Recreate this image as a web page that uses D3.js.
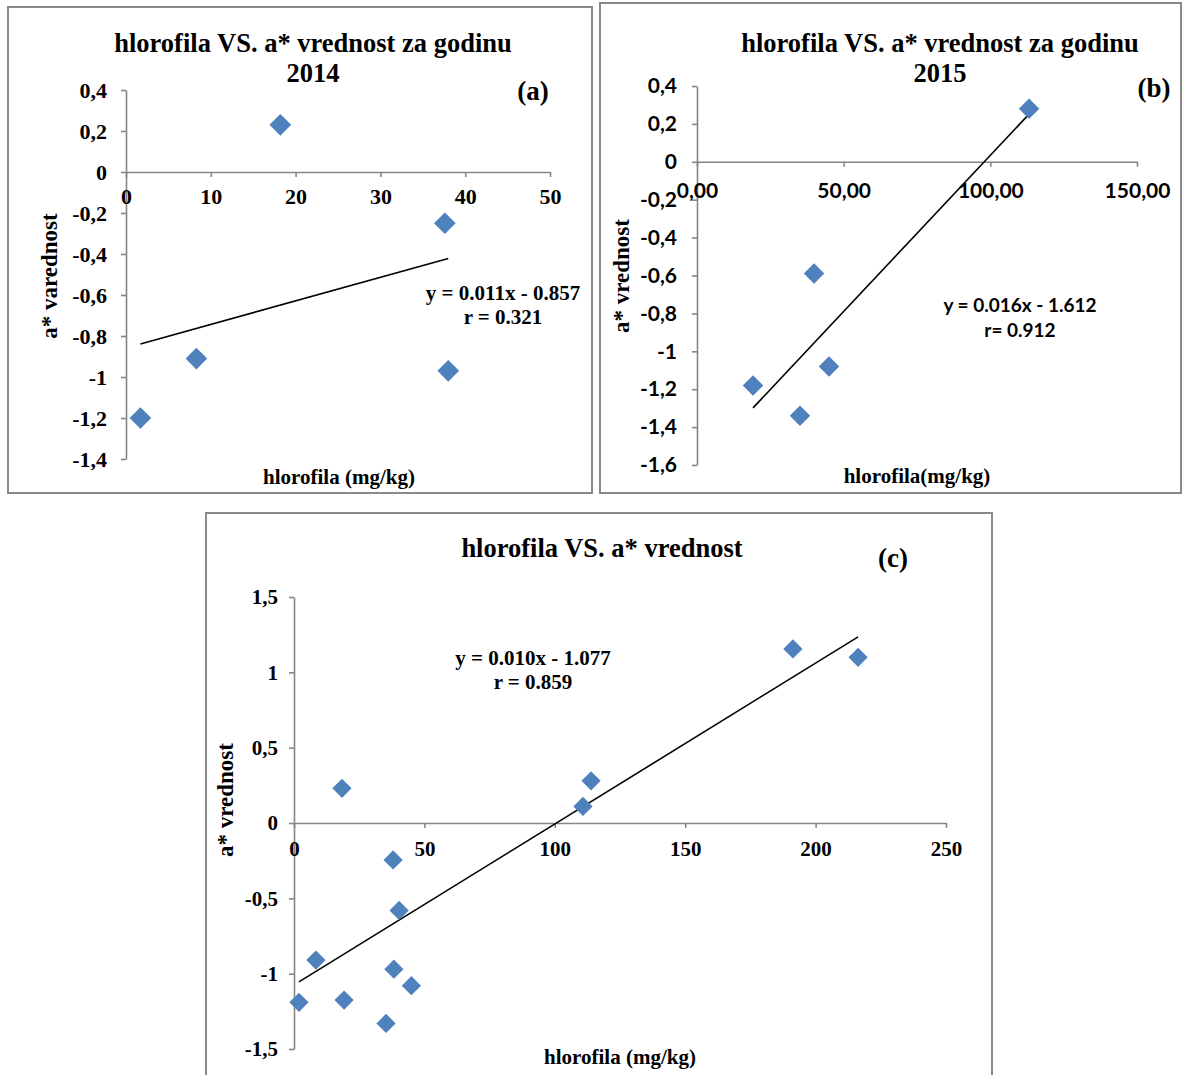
<!DOCTYPE html>
<html>
<head>
<meta charset="utf-8">
<script src="https://cdn.jsdelivr.net/npm/d3@7"></script>
<style>
  html, body { margin: 0; padding: 0; background: #fff; }
  svg { display: block; }
</style>
</head>
<body>
<svg id="chart" width="1184" height="1075"></svg>
<script>
// ---------------- DATA ----------------
// Panel (a): 2014
const xA = [1.7, 8.3, 18.2, 37.6, 38.0];
const yA = [-1.2, -0.91, 0.23, -0.25, -0.97];
// Panel (b): 2015
const xB = [19.1, 35.1, 39.9, 45.0, 113.2];
const yB = [-1.18, -1.34, -0.59, -1.08, 0.28];
// Panel (c): all
const xC = [1.9, 8.4, 18.4, 19.2, 35.3, 38.0, 38.3, 40.3, 45.0, 110.8, 113.9, 191.3, 216.3];
const yC = [-1.19, -0.91, 0.23, -1.175, -1.33, -0.245, -0.97, -0.58, -1.08, 0.11, 0.28, 1.155, 1.10];

// Tick values and labels
const xTicksA = [0, 10, 20, 30, 40, 50];
const xLabelsA = ["0", "10", "20", "30", "40", "50"];
const yTicksA = [0.4, 0.2, 0, -0.2, -0.4, -0.6, -0.8, -1, -1.2, -1.4];
const yLabelsA = ["0,4", "0,2", "0", "-0,2", "-0,4", "-0,6", "-0,8", "-1", "-1,2", "-1,4"];

const xTicksB = [0, 50, 100, 150];
const xLabelsB = ["0,00", "50,00", "100,00", "150,00"];
const yTicksB = [0.4, 0.2, 0, -0.2, -0.4, -0.6, -0.8, -1, -1.2, -1.4, -1.6];
const yLabelsB = ["0,4", "0,2", "0", "-0,2", "-0,4", "-0,6", "-0,8", "-1", "-1,2", "-1,4", "-1,6"];

const xTicksC = [0, 50, 100, 150, 200, 250];
const xLabelsC = ["0", "50", "100", "150", "200", "250"];
const yTicksC = [1.5, 1, 0.5, 0, -0.5, -1, -1.5];
const yLabelsC = ["1,5", "1", "0,5", "0", "-0,5", "-1", "-1,5"];

// Texts
const titlesA = ["hlorofila VS. a* vrednost za godinu", "2014"];
const titlesB = ["hlorofila VS. a* vrednost za godinu", "2015"];
const titlesC = ["hlorofila VS. a* vrednost"];
const tagA = "(a)", tagB = "(b)", tagC = "(c)";
const eqA = ["y = 0.011x - 0.857", "r = 0.321"];
const eqB = ["y = 0.016x - 1.612", "r= 0.912"];
const eqC = ["y = 0.010x - 1.077", "r = 0.859"];
const yTitleA = "a* varednost", yTitleB = "a* vrednost", yTitleC = "a* vrednost";
const xTitleA = "hlorofila (mg/kg)", xTitleB = "hlorofila(mg/kg)", xTitleC = "hlorofila (mg/kg)";

// ---------------- DRAWING ----------------
const SERIF = '"Liberation Serif", "Times New Roman", serif';
const SANS = 'Lato, "Open Sans", sans-serif';
const AXIS = "#868686";
const MARK = "#4F81BD";

const svg = d3.select("#chart");

const panels = [
  {
    frame: [8, 7, 584, 486],
    xs: d3.scaleLinear().domain([0, 50]).range([126, 550]),
    ys: d3.scaleLinear().domain([-1.4, 0.4]).range([459, 90]),
    xv: xA, yv: yA,
    xt: xTicksA, xl: xLabelsA, yt: yTicksA, yl: yLabelsA,
    tickFont: SERIF, tickSize: 22, xPad: 11, yPad: 14,
    eqFont: SERIF, eqSize: 21,
    titles: titlesA, titleX: 313, titleY: [52, 82],
    tag: tagA, tagX: 533, tagY: 100,
    eq: eqA, eqX: 503, eqY: [300, 324],
    yTitle: yTitleA, yTitleX: 57, yTitleY: 276,
    xTitle: xTitleA, xTitleX: 339, xTitleY: 484,
    markArea: 235
  },
  {
    frame: [600, 3, 581, 490],
    xs: d3.scaleLinear().domain([0, 150]).range([697, 1137]),
    ys: d3.scaleLinear().domain([-1.6, 0.4]).range([465, 86]),
    xv: xB, yv: yB,
    xt: xTicksB, xl: xLabelsB, yt: yTicksB, yl: yLabelsB,
    tickFont: SANS, tickSize: 21, xPad: 16, yPad: 15,
    eqFont: SANS, eqSize: 19,
    titles: titlesB, titleX: 940, titleY: [52, 82],
    tag: tagB, tagX: 1154, tagY: 97,
    eq: eqB, eqX: 1020, eqY: [312, 337],
    yTitle: yTitleB, yTitleX: 629, yTitleY: 276,
    xTitle: xTitleB, xTitleX: 917, xTitleY: 483,
    markArea: 210
  },
  {
    frame: [206, 513, 786, 580],
    xs: d3.scaleLinear().domain([0, 250]).range([294, 946]),
    ys: d3.scaleLinear().domain([-1.5, 1.5]).range([1049, 597]),
    xv: xC, yv: yC,
    xt: xTicksC, xl: xLabelsC, yt: yTicksC, yl: yLabelsC,
    tickFont: SERIF, tickSize: 21, xPad: 13, yPad: 11,
    eqFont: SERIF, eqSize: 21,
    titles: titlesC, titleX: 602, titleY: [557],
    tag: tagC, tagX: 893, tagY: 567,
    eq: eqC, eqX: 533, eqY: [665, 689],
    yTitle: yTitleC, yTitleX: 233, yTitleY: 800,
    xTitle: xTitleC, xTitleX: 620, xTitleY: 1064,
    markArea: 185
  }
];

function linFit(xs, ys) {
  const n = xs.length;
  const mx = d3.mean(xs), my = d3.mean(ys);
  let sxy = 0, sxx = 0;
  for (let i = 0; i < n; i++) {
    sxy += (xs[i] - mx) * (ys[i] - my);
    sxx += (xs[i] - mx) * (xs[i] - mx);
  }
  const b = sxy / sxx;
  return { b, a: my - b * mx };
}

panels.forEach(p => {
  const g = svg.append("g");
  // frame
  g.append("rect")
    .attr("x", p.frame[0]).attr("y", p.frame[1])
    .attr("width", p.frame[2]).attr("height", p.frame[3])
    .attr("fill", "#fff").attr("stroke", "#8a8a8a").attr("stroke-width", 2);

  // y axis at x = 0
  const yAxis = d3.axisLeft(p.ys).tickValues(p.yt)
    .tickFormat((d, i) => p.yl[i]).tickSize(5).tickSizeOuter(0).tickPadding(p.yPad);
  const gy = g.append("g").attr("transform", `translate(${p.xs(0)},0)`).call(yAxis);

  // x axis at y = 0
  const xAxis = d3.axisBottom(p.xs).tickValues(p.xt)
    .tickFormat((d, i) => p.xl[i]).tickSize(5).tickSizeOuter(0).tickPadding(p.xPad);
  const gx = g.append("g").attr("transform", `translate(0,${p.ys(0)})`).call(xAxis);

  [gx, gy].forEach(ax => {
    ax.select(".domain").attr("stroke", AXIS).attr("stroke-width", 1.6);
    ax.selectAll(".tick line").attr("stroke", AXIS).attr("stroke-width", 1.6);
    ax.selectAll(".tick text")
      .attr("fill", "#000")
      .style("font-family", p.tickFont)
      .style("font-weight", "bold")
      .style("font-size", p.tickSize + "px");
  });

  // trend line from least squares fit
  const fit = linFit(p.xv, p.yv);
  const xmin = d3.min(p.xv), xmax = d3.max(p.xv);
  g.append("line")
    .attr("x1", p.xs(xmin)).attr("y1", p.ys(fit.a + fit.b * xmin))
    .attr("x2", p.xs(xmax)).attr("y2", p.ys(fit.a + fit.b * xmax))
    .attr("stroke", "#000").attr("stroke-width", 1.6);

  // points
  const sym = d3.symbol().type(d3.symbolSquare).size(p.markArea);
  g.append("g").selectAll("path")
    .data(p.xv.map((x, i) => [x, p.yv[i]]))
    .join("path")
    .attr("d", sym)
    .attr("transform", d => `translate(${p.xs(d[0])},${p.ys(d[1])}) rotate(45)`)
    .attr("fill", MARK);

  // title
  p.titles.forEach((t, i) => {
    g.append("text")
      .attr("x", p.titleX).attr("y", p.titleY[i])
      .attr("text-anchor", "middle")
      .style("font-family", SERIF).style("font-weight", "bold").style("font-size", "26.5px")
      .text(t);
  });

  // tag
  g.append("text")
    .attr("x", p.tagX).attr("y", p.tagY)
    .attr("text-anchor", "middle")
    .style("font-family", SERIF).style("font-weight", "bold").style("font-size", "27px")
    .text(p.tag);

  // equation
  p.eq.forEach((t, i) => {
    g.append("text")
      .attr("x", p.eqX).attr("y", p.eqY[i])
      .attr("text-anchor", "middle")
      .style("font-family", p.eqFont).style("font-weight", "bold").style("font-size", p.eqSize + "px")
      .text(t);
  });

  // axis titles
  g.append("text")
    .attr("transform", `translate(${p.yTitleX},${p.yTitleY}) rotate(-90)`)
    .attr("text-anchor", "middle")
    .style("font-family", SERIF).style("font-weight", "bold").style("font-size", "23px")
    .text(p.yTitle);

  g.append("text")
    .attr("x", p.xTitleX).attr("y", p.xTitleY)
    .attr("text-anchor", "middle")
    .style("font-family", SERIF).style("font-weight", "bold").style("font-size", "21px")
    .text(p.xTitle);
});
</script>
</body>
</html>
